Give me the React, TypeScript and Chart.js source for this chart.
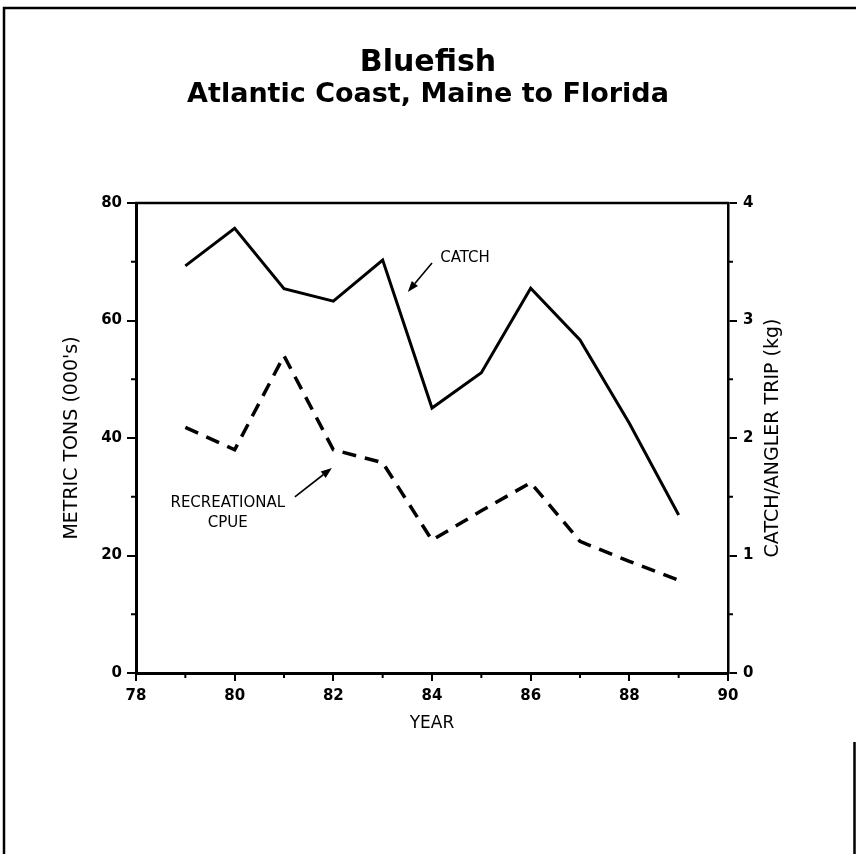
import React, { useEffect, useRef } from 'react';
import { Chart, registerables } from 'chart.js';

Chart.register(...registerables);

// ---- data ----
const years = [79, 80, 81, 82, 83, 84, 85, 86, 87, 88, 89];
const catchTons = [69.3, 75.7, 65.4, 63.3, 70.3, 45.1, 51.1, 65.5, 56.7, 42.5, 26.9];
const cpueKg = [2.09, 1.9, 2.7, 1.9, 1.79, 1.13, 1.38, 1.62, 1.12, 0.95, 0.79];

const xMin = 78;
const xMax = 90;
const xStep = 2;
const leftMax = 80;
const leftStep = 20;
const rightMax = 4;
const rightStep = 1;
const xMinorTicks = [79, 81, 83, 85, 87, 89];
const leftMinorTicks = [10, 30, 50, 70];
const rightMinorTicks = [0.5, 1.5, 2.5, 3.5];

const titleText = 'Bluefish';
const subtitleText = 'Atlantic Coast, Maine to Florida';
const xTitle = 'YEAR';
const leftTitle = "METRIC TONS (000's)";
const rightTitle = 'CATCH/ANGLER TRIP (kg)';

// annotation labels & arrows, in (year, metric tons) units
const noteTexts = ['CATCH', 'RECREATIONAL', 'CPUE'];
const noteX = [84.67, 79.86, 79.86];
const noteY = [70.6, 28.9, 25.5];
const arrowFrom = [[84.0, 69.8], [81.22, 29.96]];
const arrowTo = [[83.51, 64.85], [81.97, 34.9]];

const FONT = 'DejaVu Sans';

const decorPlugin = {
  id: 'decor',
  afterDraw(chart: any) {
    const ctx = chart.ctx;
    const xs = chart.scales.x;
    const yl = chart.scales.y;
    const yr = chart.scales.y2;
    const ca = chart.chartArea;
    ctx.save();
    ctx.strokeStyle = '#000';
    ctx.fillStyle = '#000';
    ctx.lineCap = 'butt';

    // top border of plot
    ctx.lineWidth = 2.5;
    ctx.beginPath();
    ctx.moveTo(ca.left - 1, ca.top);
    ctx.lineTo(ca.right + 1, ca.top);
    ctx.stroke();

    // minor ticks
    ctx.lineWidth = 2;
    ctx.beginPath();
    xMinorTicks.forEach((v) => {
      const px = xs.getPixelForValue(v);
      ctx.moveTo(px, ca.bottom);
      ctx.lineTo(px, ca.bottom + 5);
    });
    leftMinorTicks.forEach((v) => {
      const py = yl.getPixelForValue(v);
      ctx.moveTo(ca.left, py);
      ctx.lineTo(ca.left - 5, py);
    });
    rightMinorTicks.forEach((v) => {
      const py = yr.getPixelForValue(v);
      ctx.moveTo(ca.right, py);
      ctx.lineTo(ca.right + 5, py);
    });
    ctx.stroke();

    // right axis title (reads bottom to top)
    ctx.save();
    ctx.font = `19px "${FONT}"`;
    ctx.textAlign = 'center';
    ctx.textBaseline = 'middle';
    ctx.translate(773, (ca.top + ca.bottom) / 2);
    ctx.rotate(-Math.PI / 2);
    ctx.fillText(rightTitle, 0, 0);
    ctx.restore();

    // annotation texts
    ctx.font = `15px "${FONT}"`;
    ctx.textAlign = 'center';
    ctx.textBaseline = 'middle';
    noteTexts.forEach((t, i) => {
      ctx.fillText(t, xs.getPixelForValue(noteX[i]), yl.getPixelForValue(noteY[i]));
    });

    // arrows
    ctx.lineWidth = 1.6;
    arrowFrom.forEach((f, i) => {
      const x1 = xs.getPixelForValue(f[0]);
      const y1 = yl.getPixelForValue(f[1]);
      const x2 = xs.getPixelForValue(arrowTo[i][0]);
      const y2 = yl.getPixelForValue(arrowTo[i][1]);
      const ang = Math.atan2(y2 - y1, x2 - x1);
      const L = 11;
      const W = 4;
      const bx = x2 - L * Math.cos(ang);
      const by = y2 - L * Math.sin(ang);
      ctx.beginPath();
      ctx.moveTo(x1, y1);
      ctx.lineTo(bx, by);
      ctx.stroke();
      ctx.beginPath();
      ctx.moveTo(x2, y2);
      ctx.lineTo(bx + W * Math.sin(ang), by - W * Math.cos(ang));
      ctx.lineTo(bx - W * Math.sin(ang), by + W * Math.cos(ang));
      ctx.closePath();
      ctx.fill();
    });

    // page frame
    ctx.lineWidth = 2.5;
    ctx.beginPath();
    ctx.moveTo(4, 854);
    ctx.lineTo(4, 8);
    ctx.lineTo(856, 8);
    ctx.moveTo(854.5, 742);
    ctx.lineTo(854.5, 854);
    ctx.stroke();

    ctx.restore();
  },
};

export default function App() {
  const ref = useRef<HTMLCanvasElement | null>(null);

  useEffect(() => {
    if (!ref.current) return;
    const tickFont = { family: FONT, size: 15, weight: 'bold' };
    const chart = new Chart(ref.current, {
      type: 'line',
      data: {
        datasets: [
          {
            label: 'CATCH',
            data: years.map((x, i) => ({ x, y: catchTons[i] })),
            yAxisID: 'y',
            borderColor: '#000',
            borderWidth: 3,
            pointRadius: 0,
            tension: 0,
            fill: false,
          },
          {
            label: 'RECREATIONAL CPUE',
            data: years.map((x, i) => ({ x, y: cpueKg[i] })),
            yAxisID: 'y2',
            borderColor: '#000',
            borderWidth: 3.5,
            borderDash: [14, 9],
            pointRadius: 0,
            tension: 0,
            fill: false,
          },
        ],
      },
      options: {
        animation: false,
        responsive: false,
        devicePixelRatio: 1,
        layout: { padding: 0 },
        plugins: {
          legend: { display: false },
          tooltip: { enabled: false },
          title: {
            display: true,
            text: titleText,
            color: '#000',
            font: { family: FONT, size: 30, weight: 'bold', lineHeight: 1.0 },
            padding: { top: 48, bottom: 0 },
          },
          subtitle: {
            display: true,
            text: subtitleText,
            color: '#000',
            font: { family: FONT, size: 27, weight: 'bold' },
            padding: { top: 0.8, bottom: 91.8 },
          },
        },
        scales: {
          x: {
            type: 'linear',
            position: 'bottom',
            min: xMin,
            max: xMax,
            ticks: { stepSize: xStep, font: tickFont, color: '#000', padding: 6, maxRotation: 0, autoSkip: false },
            grid: { drawOnChartArea: false, drawTicks: true, tickLength: 8, color: '#000', lineWidth: 2 },
            border: { display: true, color: '#000', width: 3 },
            title: {
              display: true,
              text: xTitle,
              color: '#000',
              font: { family: FONT, size: 17 },
              padding: { top: 0, bottom: 120.6 },
            },
            afterFit: (s: any) => {
              s.height = 181;
            },
          },
          y: {
            type: 'linear',
            position: 'left',
            min: 0,
            max: leftMax,
            ticks: { stepSize: leftStep, font: tickFont, color: '#000', padding: 5 },
            grid: { drawOnChartArea: false, drawTicks: true, tickLength: 9, color: '#000', lineWidth: 2 },
            border: { display: true, color: '#000', width: 3 },
            title: {
              display: true,
              text: leftTitle,
              color: '#000',
              font: { family: FONT, size: 19 },
              padding: { top: 60.6, bottom: 0 },
            },
            afterFit: (s: any) => {
              s.width = 136;
            },
          },
          y2: {
            type: 'linear',
            position: 'right',
            min: 0,
            max: rightMax,
            ticks: { stepSize: rightStep, font: tickFont, color: '#000', padding: 6 },
            grid: { drawOnChartArea: false, drawTicks: true, tickLength: 9, color: '#000', lineWidth: 2 },
            border: { display: true, color: '#000', width: 2.5 },
            afterFit: (s: any) => {
              s.width = 128;
            },
          },
        },
      },
      plugins: [decorPlugin],
    } as any);
    return () => chart.destroy();
  }, []);

  return (
    <div style={{ position: 'absolute', left: 0, top: 0, width: 856, height: 854, background: '#fff' }}>
      <canvas ref={ref} width={856} height={854} style={{ display: 'block', width: 856, height: 854 }} />
    </div>
  );
}
